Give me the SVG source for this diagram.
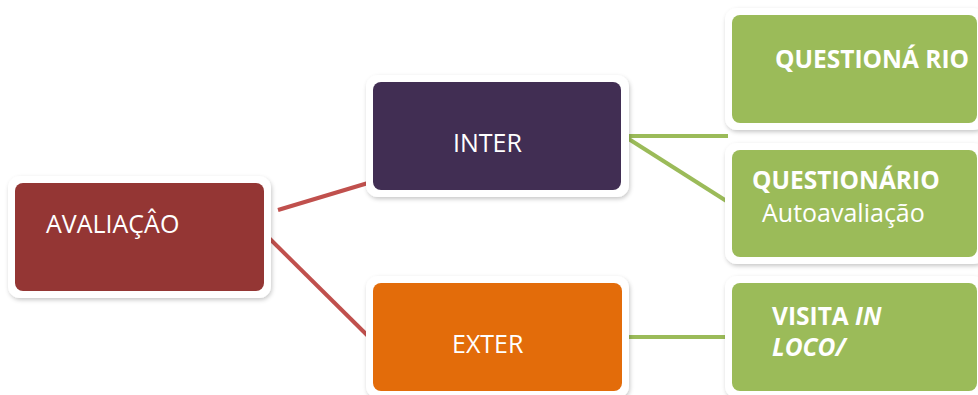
<svg xmlns="http://www.w3.org/2000/svg" width="978" height="395" viewBox="0 0 978 395">
<defs>
<filter id="sh" x="-10%" y="-10%" width="120%" height="130%">
<feDropShadow dx="1" dy="2" stdDeviation="2" flood-color="#000" flood-opacity="0.22"/>
</filter>
<style>
.frame{fill:#fff;filter:url(#sh)}
.t{font-family:"Open Sans","Liberation Sans",sans-serif;font-size:25px;fill:#fff}
.b{font-weight:bold;font-size:24.5px}
.red{stroke:#c0504d;stroke-width:4;fill:none}
.grn{stroke:#9bbb59;stroke-width:4;fill:none}
</style>
</defs>
<rect width="978" height="395" fill="#fff"/>
<g id="connectors">
<line class="red" x1="278" y1="210" x2="368" y2="183"/>
<line class="red" x1="268" y1="237" x2="368" y2="336"/>
<line class="grn" x1="624" y1="136" x2="728" y2="136"/>
<line class="grn" x1="624" y1="136" x2="728" y2="202"/>
<line class="grn" x1="624" y1="337" x2="728" y2="337"/>
</g>
<g id="avaliacao">
<rect class="frame" x="8" y="176" width="263" height="122" rx="12"/>
<rect x="15" y="183" width="249" height="108" rx="8" fill="#943634"/>
<text class="t" x="46" y="233">AVALIAÇÂO</text>
</g>
<g id="inter">
<rect class="frame" x="366" y="75" width="263" height="122" rx="12"/>
<rect x="373" y="82" width="248" height="108" rx="8" fill="#412e53"/>
<text class="t" x="453" y="152">INTER</text>
</g>
<g id="exter">
<rect class="frame" x="366" y="276" width="263" height="122" rx="12"/>
<rect x="373" y="283" width="249" height="108" rx="8" fill="#e36c0a"/>
<text class="t" x="452" y="353">EXTER</text>
</g>
<g id="questionario1">
<rect class="frame" x="725" y="8" width="260" height="122" rx="12"/>
<rect x="732" y="15" width="245" height="108" rx="8" fill="#9bbb59"/>
<text class="t b" x="775" y="68">QUESTIONÁ RIO</text>
</g>
<g id="questionario2">
<rect class="frame" x="725" y="143" width="260" height="121" rx="12"/>
<rect x="732" y="150" width="245" height="107" rx="8" fill="#9bbb59"/>
<text class="t b" x="752" y="189">QUESTIONÁRIO</text>
<text class="t" x="762" y="222">Autoavaliação</text>
</g>
<g id="visita">
<rect class="frame" x="725" y="276" width="260" height="122" rx="12"/>
<rect x="732" y="283" width="245" height="108" rx="8" fill="#9bbb59"/>
<text class="t b" x="772" y="325">VISITA <tspan font-style="italic">IN</tspan></text>
<text class="t b" x="772" y="356" font-style="italic">LOCO/</text>
</g>
</svg>
